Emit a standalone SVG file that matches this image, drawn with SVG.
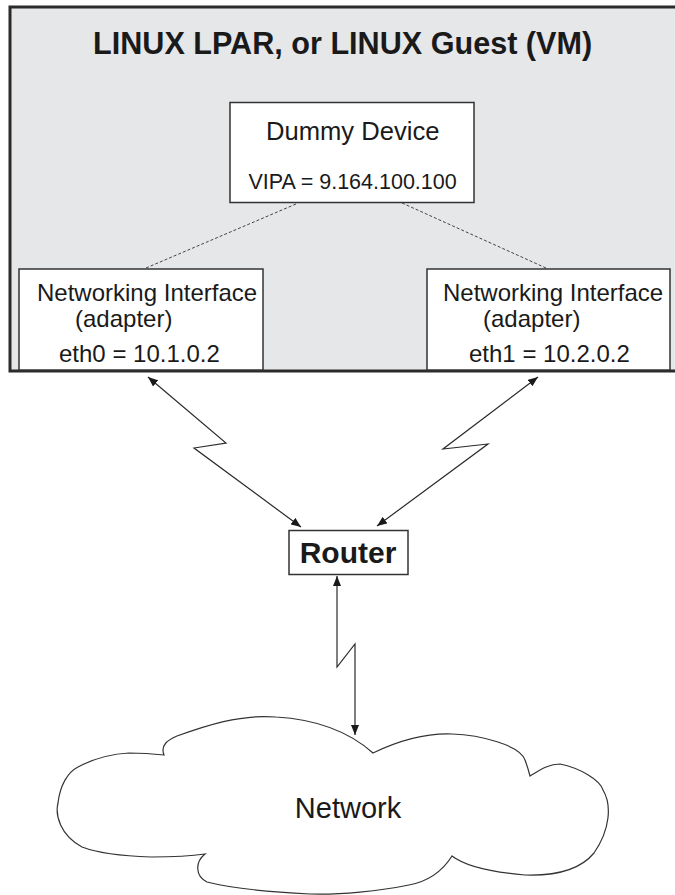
<svg xmlns="http://www.w3.org/2000/svg" width="675" height="895" viewBox="0 0 675 895">
<style>
  .box { fill: #ffffff; stroke: #333333; stroke-width: 1.5; }
  .t { font-family: "Liberation Sans", Arial, sans-serif; fill: #1a1a1a; }
  .reg { font-size: 24px; }
  .link { fill: none; stroke: #2a2a2a; stroke-width: 1.2; }
  .dash { fill: none; stroke: #444444; stroke-width: 1; stroke-dasharray: 3 2; }
</style>
<defs>
  <marker id="ah" viewBox="0 0 10 8" refX="10" refY="4" markerWidth="10" markerHeight="8" markerUnits="userSpaceOnUse" orient="auto-start-reverse">
    <path d="M0,0 L10,4 L0,8 Z" fill="#1a1a1a"/>
  </marker>
</defs>
<rect width="675" height="895" fill="#ffffff"/>

<g id="lpar">
  <rect x="10" y="7" width="680" height="364" fill="#e6e7e9" stroke="#2b2b2b" stroke-width="3"/>
  <text class="t" x="93" y="54" font-size="30.6" font-weight="bold">LINUX LPAR, or LINUX Guest (VM)</text>
</g>

<g id="connectors">
  <line class="dash" x1="296" y1="204" x2="146" y2="268"/>
  <line class="dash" x1="402" y1="203" x2="546" y2="268"/>
  <polyline class="link" points="148,377 226,443 194,448 301,527" marker-start="url(#ah)" marker-end="url(#ah)"/>
  <polyline class="link" points="538,377 443,449 488,444 377,526" marker-start="url(#ah)" marker-end="url(#ah)"/>
  <polyline class="link" points="337,576 337,667 355,644 355,735" marker-start="url(#ah)" marker-end="url(#ah)"/>
</g>

<g id="dummy">
  <rect class="box" x="230" y="102.5" width="244" height="100"/>
  <text class="t" x="266" y="140" font-size="25.6">Dummy Device</text>
  <text class="t" x="248.5" y="189" font-size="21.5">VIPA = 9.164.100.100</text>
</g>

<g id="eth0">
  <rect class="box" x="19" y="269" width="244" height="101"/>
  <text class="t reg" x="37" y="301">Networking Interface</text>
  <text class="t reg" x="75" y="327">(adapter)</text>
  <text class="t reg" x="59" y="362">eth0 = 10.1.0.2</text>
</g>

<g id="eth1">
  <rect class="box" x="427" y="269" width="243" height="101"/>
  <text class="t reg" x="443" y="301">Networking Interface</text>
  <text class="t reg" x="483" y="327">(adapter)</text>
  <text class="t reg" x="469" y="362">eth1 = 10.2.0.2</text>
</g>

<g id="router">
  <rect class="box" x="289" y="530.5" width="119" height="44"/>
  <text class="t" x="348" y="563" font-size="30" font-weight="bold" text-anchor="middle">Router</text>
</g>

<g id="network">
  <path fill="#ffffff" stroke="#333333" stroke-width="1.2" d="M164,755 C160,745 168,740 177,736 C205,726 240,714 276,717 C310,719 345,728 373,753 C400,740 425,733 452,734 C480,735 520,745 525,760 C528,768 529,772 530,776 C540,770 548,764 560,764 C580,768 600,780 603,790 C612,805 610,830 594,853 C580,870 555,876 525,875 C490,872 465,866 452,856 C440,875 425,882 409,885 C380,891 340,895 310,894 C270,892 230,888 207,882 C195,876 195,862 205,854 C185,857 168,857 151,857 C120,856 95,852 82,847 C60,835 55,815 58,803 C60,785 68,772 78,767 C95,758 110,754 129,753 C145,753 155,754 164,755 Z"/>
  <text class="t" x="348" y="818" font-size="29" text-anchor="middle">Network</text>
</g>
</svg>
